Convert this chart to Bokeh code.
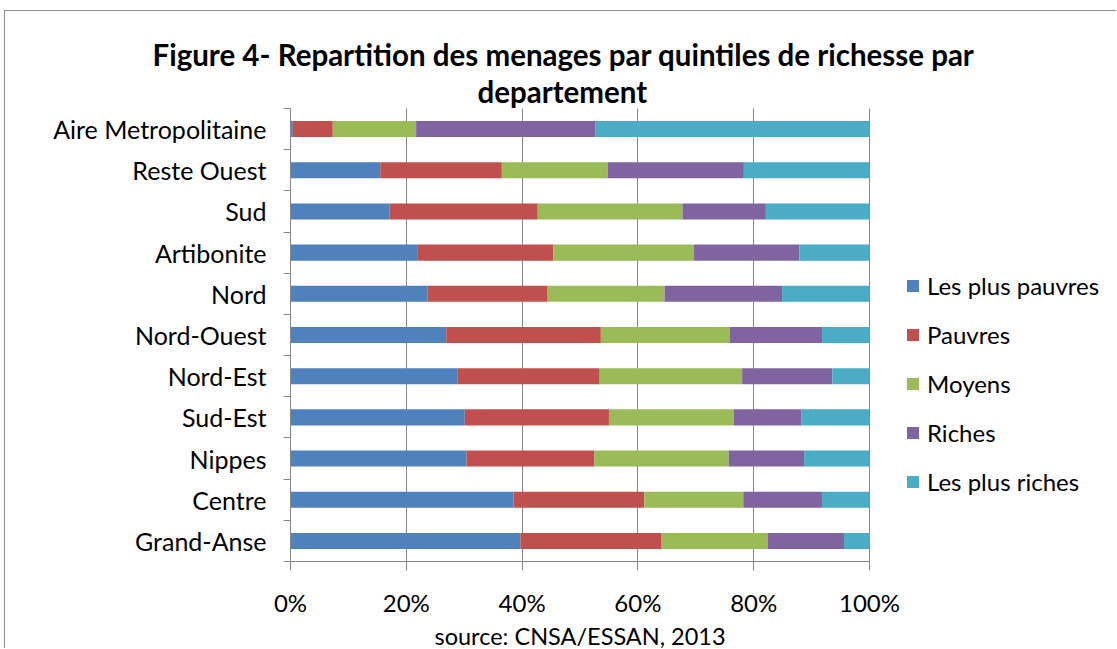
from bokeh.plotting import figure
from bokeh.models import Range1d, FixedTicker, Title, Legend, LegendItem, ColumnDataSource
from bokeh.embed import file_html
from bokeh.resources import INLINE

categories = ["Aire Metropolitaine", "Reste Ouest", "Sud", "Artibonite", "Nord",
              "Nord-Ouest", "Nord-Est", "Sud-Est", "Nippes", "Centre", "Grand-Anse"]
series = ["Les plus pauvres", "Pauvres", "Moyens", "Riches", "Les plus riches"]
les_plus_pauvres = [0.4, 15.5, 17.1, 22.0, 23.7, 26.9, 28.9, 30.1, 30.4, 38.5, 39.7]
pauvres = [6.9, 21.0, 25.6, 23.4, 20.6, 26.7, 24.5, 24.9, 22.1, 22.6, 24.4]
moyens = [14.4, 18.3, 25.0, 24.3, 20.3, 22.3, 24.6, 21.6, 23.2, 17.1, 18.3]
riches = [31.0, 23.5, 14.4, 18.2, 20.3, 15.9, 15.6, 11.6, 13.0, 13.6, 13.2]
les_plus_riches = [47.3, 21.7, 17.9, 12.1, 15.1, 8.2, 6.4, 11.8, 11.3, 8.2, 4.4]
colors = ["#4F81BD", "#C0504D", "#9BBB59", "#8064A2", "#4BACC6"]
x_ticks = [0, 20, 40, 60, 80, 100]
x_tick_labels = ["0%", "20%", "40%", "60%", "80%", "100%"]
title_lines = ["Figure 4- Repartition des menages par quintiles de richesse par", "departement"]
source_note = "source: CNSA/ESSAN, 2013"

FONT = "Lato"
n = len(categories)
ypos = [n - 0.5 - i for i in range(n)]
keys = ["s0", "s1", "s2", "s3", "s4"]
src = ColumnDataSource(dict(y=ypos, s0=les_plus_pauvres, s1=pauvres, s2=moyens,
                            s3=riches, s4=les_plus_riches))

# frame layout (pixels): left 290, right 1117, top 108, bottom 563; 100% spans 579 px
FRAME_W = 827
x_end = 100.0 * FRAME_W / 579

p = figure(width=1112, height=638, output_backend="svg", toolbar_location=None,
           x_range=Range1d(0, x_end), y_range=Range1d(0, n),
           min_border_left=285, min_border_right=0, min_border_top=97,
           min_border_bottom=86, title=None)
p.outline_line_color = None
p.styles = {"margin-left": "4px", "margin-top": "10px",
            "border-top": "1px solid #8c8c8c", "border-left": "1px solid #8c8c8c"}

rs = p.hbar_stack(keys, y="y", height=0.39, color=colors, source=src, line_color=None)

# axes
xa = p.xaxis[0]
xa.bounds = (0, 100)
xa.ticker = FixedTicker(ticks=x_ticks, minor_ticks=[])
xa.major_label_overrides = {t: l for t, l in zip(x_ticks, x_tick_labels)}
xa.axis_line_color = "#868686"
xa.major_tick_line_color = "#868686"
xa.major_tick_in = 0
xa.major_tick_out = 9
xa.minor_tick_line_color = None
xa.major_label_text_font = FONT
xa.major_label_text_font_size = "24px"
xa.major_label_text_color = "#000000"
xa.major_label_standoff = 17

ya = p.yaxis[0]
ya.bounds = (0, n)
ya.ticker = FixedTicker(ticks=ypos, minor_ticks=list(range(n + 1)))
ya.major_label_overrides = {y: c for y, c in zip(ypos, categories)}
ya.axis_line_color = "#868686"
ya.major_tick_line_color = None
ya.major_tick_in = 0
ya.major_tick_out = 0
ya.minor_tick_line_color = "#868686"
ya.minor_tick_in = 0
ya.minor_tick_out = 7
ya.major_label_text_font = FONT
ya.major_label_text_font_size = "25px"
ya.major_label_text_color = "#000000"
ya.major_label_standoff = 17

p.xgrid.ticker = FixedTicker(ticks=x_ticks)
p.xgrid.grid_line_color = "#868686"
p.xgrid.grid_line_width = 1
p.ygrid.grid_line_color = None

# title: closest line to the frame is added first
p.add_layout(Title(text=title_lines[1], align="left", offset=187, standoff=0,
                   text_font=FONT, text_font_size="29.5px", text_font_style="bold",
                   text_color="#000000"), "above")
p.add_layout(Title(text=title_lines[0], align="left", offset=-138, standoff=0,
                   text_font=FONT, text_font_size="29.5px", text_font_style="bold",
                   text_color="#000000"), "above")

# source note under the axis
p.add_layout(Title(text=source_note, align="left", offset=144, standoff=0,
                   text_font=FONT, text_font_size="23.5px", text_font_style="normal",
                   text_color="#000000"), "below")

legend = Legend(items=[LegendItem(label=s, renderers=[r]) for s, r in zip(series, rs)],
                location=(615, 65), orientation="vertical")
legend.label_text_font = FONT
legend.label_text_font_size = "24px"
legend.label_text_color = "#000000"
legend.glyph_width = 15
legend.glyph_height = 15
legend.label_height = 30
legend.spacing = 19
legend.label_standoff = 7
legend.padding = 0
legend.margin = 0
legend.border_line_color = None
legend.background_fill_alpha = 0
p.add_layout(legend)

open("out.html", "w").write(file_html(p, INLINE))
